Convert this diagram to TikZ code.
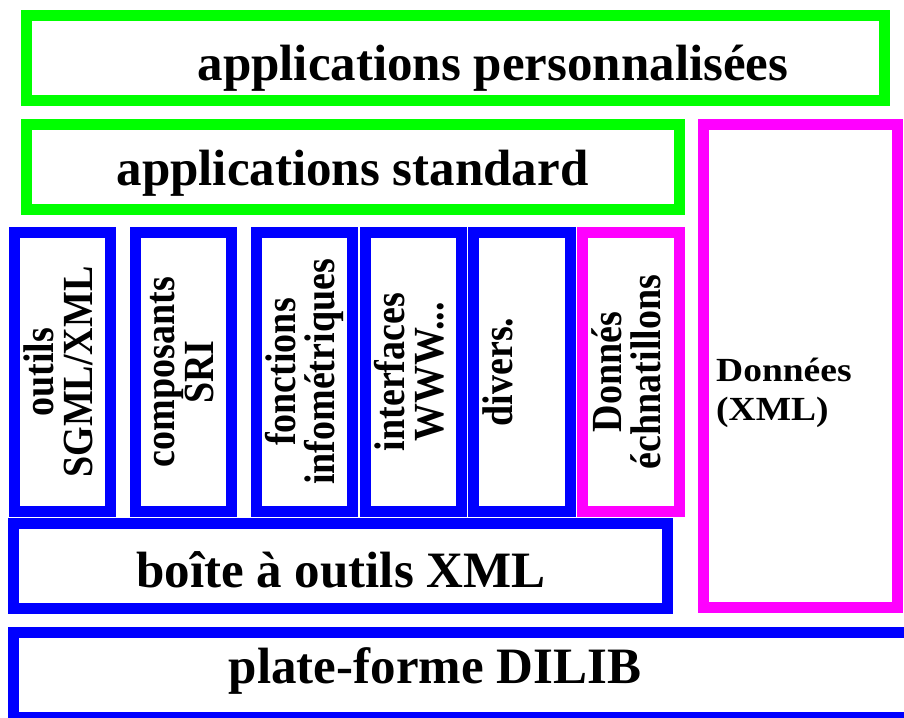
\documentclass[tikz,border=0pt]{standalone}
\usepackage{fontspec}
\setmainfont{Liberation Serif}
\usepackage{graphicx}
\definecolor{grn}{RGB}{0,255,0}
\definecolor{blu}{RGB}{0,0,255}
\definecolor{mag}{RGB}{255,0,255}
\begin{document}
\begin{tikzpicture}[x=1pt,y=-1pt,
  frame/.style={draw=#1, line width=11pt, inner sep=0pt},
  vframe/.style={frame=#1, minimum height=279pt},
  big/.style={font=\fontsize{51}{51}\selectfont\bfseries, anchor=base, inner sep=0pt},
  vlab/.style={font=\fontsize{38}{38}\selectfont\bfseries, anchor=base, rotate=90, inner sep=0pt},
  side/.style={font=\fontsize{37.5}{37.5}\selectfont\bfseries, anchor=base west, inner sep=0pt}]
\useasboundingbox (0,0) rectangle (904,717);
\clip (0,0) rectangle (904,717);
% frames
\node[frame=grn, minimum width=858pt, minimum height=85pt] (pers) at (455.5,58) {};
\node[frame=grn, minimum width=653pt, minimum height=85pt] (std) at (353,167) {};
\node[frame=mag, minimum width=194pt, minimum height=483pt] (xml) at (800.5,366) {};
\node[vframe=blu, minimum width=96pt] (outils) at (62.5,372) {};
\node[vframe=blu, minimum width=96pt] (compo) at (183.5,372) {};
\node[vframe=blu, minimum width=96pt] (fonct) at (304.5,372) {};
\node[vframe=blu, minimum width=96pt] (inter) at (413.5,372) {};
\node[vframe=blu, minimum width=97pt] (divers) at (522,372) {};
\node[vframe=mag, minimum width=97pt] (echant) at (631,372) {};
\node[frame=blu, minimum width=654pt, minimum height=85pt] (boite) at (340.5,566) {};
\node[frame=blu, minimum width=906.5pt, minimum height=85pt] (dilib) at (466.75,675) {};
% horizontal labels
\node[big] (tpers) at (493,80) {applications personnalisées};
\node[big] (tstd) at (352.5,185) {applications standard};
\node[big] (tboite) at (341,587) {boîte à outils XML};
\node[big] (tdilib) at (435,683) {plate-forme DILIB};
% vertical labels
\node[vlab] (ta1) at (53,372) {\scalebox{1}[1.13]{outils}};
\node[vlab] (ta2) at (92,372) {\scalebox{1}[1.13]{SGML/XML}};
\node[vlab] (tb1) at (174,372) {\scalebox{1}[1.13]{composants}};
\node[vlab] (tb2) at (213,372) {\scalebox{1}[1.13]{SRI}};
\node[vlab] (tc1) at (295,372) {\scalebox{1}[1.13]{fonctions}};
\node[vlab] (tc2) at (334,372) {\scalebox{1}[1.13]{infométriques}};
\node[vlab] (td1) at (404,372) {\scalebox{1}[1.13]{interfaces}};
\node[vlab] (td2) at (443,372) {\scalebox{1}[1.13]{WWW...}};
\node[vlab] (te1) at (512.5,372) {\scalebox{1}[1.13]{divers.}};
\node[vlab] (tf1) at (621.5,372) {\scalebox{1}[1.13]{Donnés}};
\node[vlab] (tf2) at (660.5,372) {\scalebox{1}[1.13]{échnatillons}};
% side label
\node[side] (tx1) at (716,381) {\scalebox{1}[0.9]{Données}};
\node[side] (tx2) at (716,420) {\scalebox{1}[0.9]{(XML)}};
\end{tikzpicture}
\end{document}
